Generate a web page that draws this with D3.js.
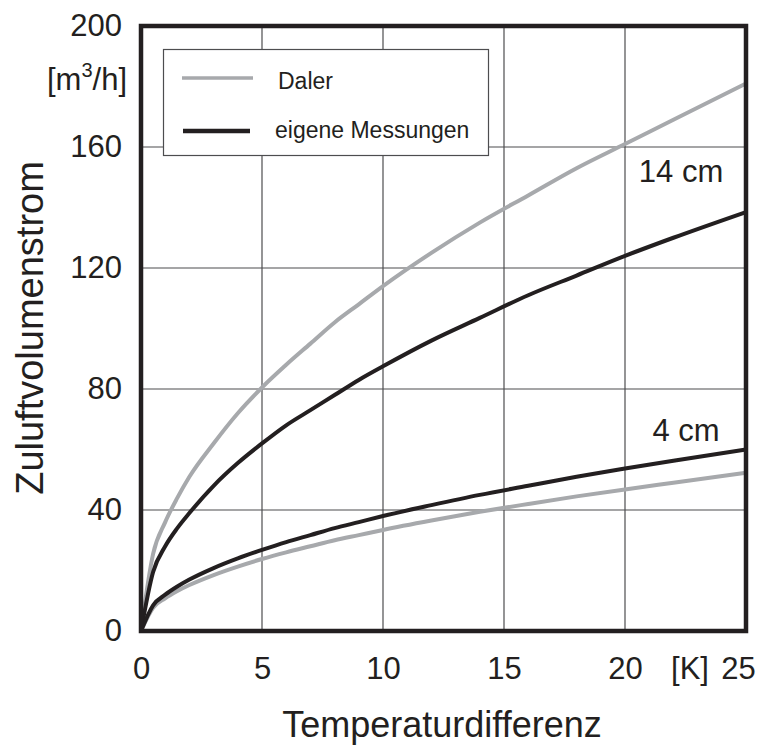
<!DOCTYPE html>
<html><head><meta charset="utf-8">
<script src="https://cdn.jsdelivr.net/npm/d3@7"></script>
<style>
html,body{margin:0;padding:0;background:#fff;}
text{font-family:"Liberation Sans",Arial,Helvetica,sans-serif;fill:#231f20;}
</style></head>
<body><svg id="c" width="766" height="747"></svg>
<script>
const xVals    = [0,0.5,1,1.5,2,3,4,5,6,7,8,9,10,12,14,16,18,20,22,25];
const daler14  = [0,25.5,36,44,51,62,72,80.5,88,95,102,108,114,125,135,144,153,161,169,181];
const eigene14 = [0,19.5,28,34,39,48,55.5,62,68,73,78,83,87.5,96,103.5,111,117.5,124,130,138.5];
const eigene4  = [0,8.5,12,14.7,17,20.8,24,26.8,29.4,31.7,34,36,38,41.6,45,48,51,53.7,56.3,60];
const daler4   = [0,7.7,10.8,13.2,15.2,18.5,21.3,23.8,26,28,30,31.7,33.4,36.5,39.4,42,44.5,46.8,49,52.3];
const xTicks = [0,5,10,15,20,25];
const yTicks = [0,40,80,120,160,200];
const seriesNames = ["Daler","eigene Messungen"];
const curveLabels = ["14 cm","4 cm"];

const L=141,R=746,T=26,B=631;
const svg=d3.select("#c");
const x=d3.scaleLinear().domain([0,25]).range([L,R]);
const y=d3.scaleLinear().domain([0,200]).range([B,T]);
const GRAY="#a7a9ac", BLACK="#231f20", GRID="#4d4d4f";

// grid
svg.append("g").selectAll("line").data(xTicks.slice(1,-1)).join("line")
  .attr("x1",d=>x(d)).attr("x2",d=>x(d)).attr("y1",T).attr("y2",B)
  .attr("stroke",GRID).attr("stroke-width",1.2);
svg.append("g").selectAll("line").data(yTicks.slice(1,-1)).join("line")
  .attr("y1",d=>y(d)).attr("y2",d=>y(d)).attr("x1",L).attr("x2",R)
  .attr("stroke",GRID).attr("stroke-width",1.2);

// curves
const line=d3.line().x((d,i)=>x(xVals[i])).y(d=>y(d)).curve(d3.curveMonotoneX);
const series=[[daler14,GRAY],[daler4,GRAY],[eigene14,BLACK],[eigene4,BLACK]];
series.forEach(([vals,col])=>{
  svg.append("path").attr("d",line(vals)).attr("fill","none")
    .attr("stroke",col).attr("stroke-width",4).attr("stroke-linejoin","round");
});

// legend
svg.append("rect").attr("x",163.5).attr("y",49.5).attr("width",325).attr("height",106)
  .attr("fill","#fff").attr("stroke",GRID).attr("stroke-width",1.2);
const legY=[78,131];
[GRAY,BLACK].forEach((c,i)=>{
  svg.append("line").attr("x1",i?183:182).attr("x2",i?250:253).attr("y1",legY[i]).attr("y2",legY[i])
    .attr("stroke",c).attr("stroke-width",i?4.5:3.5);
});
svg.append("text").attr("x",278).attr("y",89).attr("font-size",23).text(seriesNames[0]);
svg.append("text").attr("x",275).attr("y",138).attr("font-size",23).text(seriesNames[1]);

// frame
svg.append("rect").attr("x",L).attr("y",T).attr("width",R-L).attr("height",B-T)
  .attr("fill","none").attr("stroke",BLACK).attr("stroke-width",4.5);

// axes labels
const xa=svg.append("g").attr("transform",`translate(0,${B})`)
  .call(d3.axisBottom(x).tickValues(xTicks).tickSize(0).tickPadding(0).tickFormat(d3.format("d")));
xa.select(".domain").remove();
xa.selectAll("text").attr("font-size",31).attr("font-family",null).attr("fill","#231f20")
  .attr("dy",null).attr("y",48).attr("dx",d=>d===25?-8:0);
const ya=svg.append("g").attr("transform",`translate(122,0)`)
  .call(d3.axisLeft(y).tickValues(yTicks).tickSize(0).tickPadding(0).tickFormat(d3.format("d")));
ya.select(".domain").remove();
ya.selectAll("text").attr("font-size",31).attr("font-family",null).attr("fill","#231f20")
  .attr("dy",null).attr("y",9);

svg.append("text").attr("x",690).attr("y",679).attr("text-anchor","middle").attr("font-size",31).text("[K]");
const unit=svg.append("text").attr("x",127).attr("y",90).attr("text-anchor","end").attr("font-size",31);
unit.append("tspan").text("[m");
unit.append("tspan").attr("font-size",20).attr("dy",-13).text("3");
unit.append("tspan").attr("dy",13).text("/h]");

svg.append("text").attr("x",681).attr("y",182).attr("text-anchor","middle").attr("font-size",31).text(curveLabels[0]);
svg.append("text").attr("x",686).attr("y",441).attr("text-anchor","middle").attr("font-size",31).text(curveLabels[1]);

svg.append("text").attr("x",442).attr("y",737).attr("text-anchor","middle").attr("font-size",36).text("Temperaturdifferenz");
svg.append("text").attr("transform","translate(43,328) rotate(-90)").attr("text-anchor","middle")
  .attr("font-size",38).text("Zuluftvolumenstrom");
</script></body></html>
